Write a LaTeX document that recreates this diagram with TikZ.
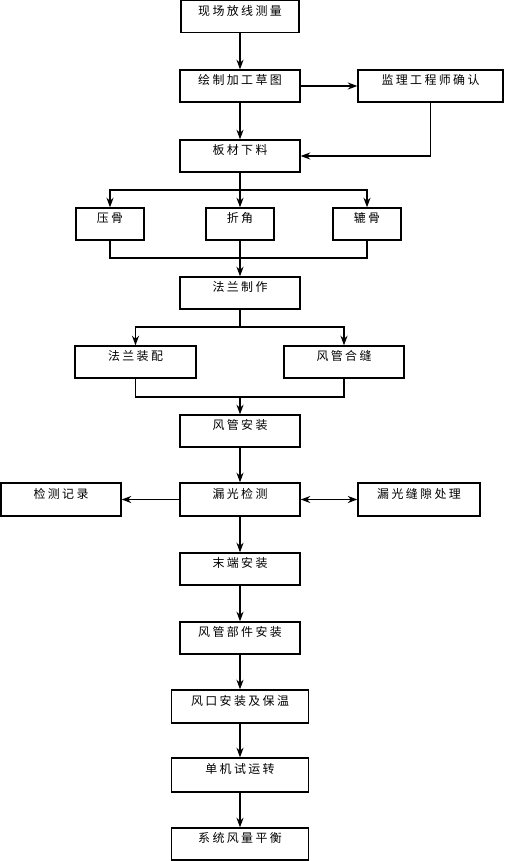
\documentclass[tikz,border=0pt]{standalone}
\usepackage{fontspec}
\newfontfamily\cjk[LetterSpace=20]{Noto Sans CJK SC}
\usetikzlibrary{
    positioning,
    arrows.meta,
}
\tikzset{
    % Basic node styles
    box/.style={rectangle, draw, line width=0.8pt, inner sep=0pt,
                minimum width=2.4cm, minimum height=0.64cm,
                font=\cjk\fontsize{6.8}{8}\selectfont,
                text height=5pt, text depth=6.6pt},
    small box/.style={box, minimum width=1.36cm},
    wide box/.style={box, minimum width=2.74cm},
    % Arrow styles
    tip/.tip={Stealth[length=1.9mm, width=1.4mm, inset=0.6mm]},
    arrow/.style={-tip, line width=0.8pt},
    both arrow/.style={tip-tip, line width=0.8pt},
    line/.style={line width=0.8pt},
}

\begin{document}
\begin{tikzpicture}[x=0.02cm, y=-0.02cm]
    \useasboundingbox (0,0) rectangle (504,861);

    % Boxes
    \node[box, minimum width=2.36cm] (survey) at (240, 16.5) {现场放线测量};
    \node[box] (sketch) at (240, 86) {绘制加工草图};
    \node[box, minimum width=2.9cm] (confirm) at (430.5, 86) {监理工程师确认};
    \node[box] (cut) at (240, 156) {板材下料};

    \node[small box] (press) at (110, 224) {压骨};
    \node[small box] (fold) at (240, 224) {折角};
    \node[small box] (lock) at (367, 224) {辘骨};

    \node[box] (flange) at (240, 293) {法兰制作};
    \node[box, minimum width=2.42cm] (assemble) at (135.5, 362) {法兰装配};
    \node[box] (seam) at (344, 362) {风管合缝};
    \node[box] (install) at (240, 431) {风管安装};

    \node[box, minimum height=0.66cm] (leak) at (240, 499.5) {漏光检测};
    \node[box, minimum height=0.66cm] (record) at (61, 499.5) {检测记录};
    \node[box, minimum width=2.44cm, minimum height=0.66cm] (gap) at (419, 499.5) {漏光缝隙处理};

    \node[box] (terminal) at (240, 569) {末端安装};
    \node[box] (parts) at (240, 638) {风管部件安装};
    \node[wide box, minimum height=0.66cm] (outlet) at (240, 706.5) {风口安装及保温};
    \node[wide box, minimum height=0.68cm] (trial) at (240, 775) {单机试运转};
    \node[wide box] (balance) at (240, 844) {系统风量平衡};

    % Branch points
    \coordinate (split1) at (240, 190);
    \coordinate (merge1) at (240, 258);
    \coordinate (split2) at (240, 327);
    \coordinate (merge2) at (240, 397);

    % Arrows
    \draw[arrow] (survey) -- (sketch);
    \draw[arrow] (sketch) -- (confirm);
    \draw[arrow] (sketch) -- (cut);
    \draw[arrow] (confirm.south) |- (cut);

    \draw[line] (cut) -- (split1);
    \draw[arrow] (split1) -| (press);
    \draw[arrow] (split1) -- (fold);
    \draw[arrow] (split1) -| (lock);
    \draw[line] (press) |- (merge1);
    \draw[line] (lock) |- (merge1);
    \draw[arrow] (fold) -- (flange);

    \draw[line] (flange) -- (split2);
    \draw[arrow] (split2) -| (assemble);
    \draw[arrow] (split2) -| (seam);
    \draw[line] (assemble) |- (merge2);
    \draw[line] (seam) |- (merge2);
    \draw[arrow] (merge2) -- (install);

    \draw[arrow] (install) -- (leak);
    \draw[arrow] (leak) -- (record);
    \draw[both arrow] (leak) -- (gap);
    \draw[arrow] (leak) -- (terminal);
    \draw[arrow] (terminal) -- (parts);
    \draw[arrow] (parts) -- (outlet);
    \draw[arrow] (outlet) -- (trial);
    \draw[arrow] (trial) -- (balance);
\end{tikzpicture}
\end{document}
